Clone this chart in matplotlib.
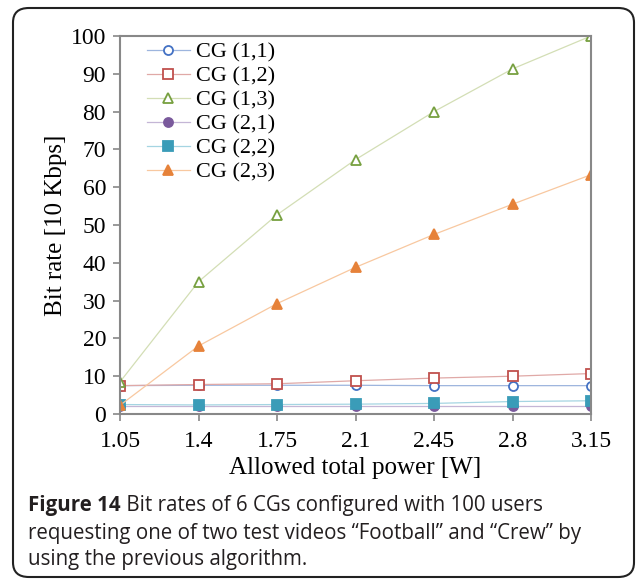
import matplotlib.pyplot as plt
from matplotlib.patches import FancyBboxPatch

# allowed total power (W) and bit rates per CG (10 Kbps)
power = [1.05, 1.4, 1.75, 2.1, 2.45, 2.8, 3.15]
power_labels = ["1.05", "1.4", "1.75", "2.1", "2.45", "2.8", "3.15"]
cg_names = ["CG (1,1)", "CG (1,2)", "CG (1,3)", "CG (2,1)", "CG (2,2)", "CG (2,3)"]
cg11 = [7.5, 7.6, 7.6, 7.6, 7.5, 7.5, 7.5]
cg12 = [7.5, 7.8, 8.0, 8.8, 9.5, 10.0, 10.7]
cg13 = [8.5, 35.0, 52.7, 67.3, 80.0, 91.3, 100.0]
cg21 = [2.2, 2.2, 2.2, 2.2, 2.2, 2.2, 2.2]
cg22 = [2.5, 2.4, 2.5, 2.6, 2.8, 3.3, 3.5]
cg23 = [2.3, 18.0, 29.2, 38.8, 47.5, 55.5, 63.3]

series = [cg11, cg12, cg13, cg21, cg22, cg23]
line_colors = ["#9db5de", "#e0a9a7", "#d3deb5", "#c4b6d6", "#a5d5e2", "#f8c8a0"]
mark_colors = ["#4472c4", "#c0504d", "#77a040", "#7a5a9c", "#3a9cb8", "#e6823a"]
markers = ["o", "s", "^", "o", "s", "^"]
filled = [False, False, False, True, True, True]

fig = plt.figure(figsize=(6.37, 5.81), dpi=100)

# rounded frame around figure and caption
frame = FancyBboxPatch((13 / 637, 4 / 581), 621 / 637, 569 / 581,
                       boxstyle="round,pad=0,rounding_size=0.025",
                       transform=fig.transFigure, fill=False,
                       edgecolor="#222222", linewidth=1.5)
fig.patches.append(frame)

ax = fig.add_axes([120 / 637, 1 - 414 / 581, 471 / 637, 378 / 581])

for y, name, lc, mc, m, f in zip(series, cg_names, line_colors, mark_colors, markers, filled):
    ax.plot(power, y, color=lc, linewidth=0.9, marker=m, markersize=6.5,
            markerfacecolor=mc if f else "white", markeredgecolor=mc,
            markeredgewidth=1.3, label=name)

serif = ["Liberation Serif", "DejaVu Serif"]
ax.set_xlim(1.05, 3.15)
ax.set_ylim(0, 100)
ax.set_xticks(power)
ax.set_xticklabels(power_labels)
ax.set_yticks(range(0, 101, 10))
for lab in ax.get_xticklabels() + ax.get_yticklabels():
    lab.set_family(serif)
    lab.set_fontsize(17)
ax.tick_params(direction="out", length=5, width=1.2, color="#888888", pad=5)
ax.tick_params(axis="x", pad=7)
for sp in ax.spines.values():
    sp.set_color("#888888")
    sp.set_linewidth(1.5)

ax.set_xlabel("Allowed total power [W]", family=serif, fontsize=18, labelpad=4)
ax.set_ylabel("Bit rate [10 Kbps]", family=serif, fontsize=18, labelpad=3)

leg = ax.legend(loc="upper left", bbox_to_anchor=(0.038, 1.008), frameon=False,
                prop={"family": serif, "size": 16}, handlelength=1.95,
                handletextpad=0.25, labelspacing=0.16, borderaxespad=0)

caption = [
    ("Figure 14", " Bit rates of 6 CGs configured with 100 users"),
    ("", "requesting one of two test videos \u201cFootball\u201d and \u201cCrew\u201d by"),
    ("", "using the previous algorithm."),
]
sans = ["Open Sans", "DejaVu Sans"]
for i, (bold, rest) in enumerate(caption):
    ypos = 1 - (506 + 27 * i) / 581
    t = fig.text(28 / 637, ypos, bold, family=sans, fontsize=14.8,
                 fontweight="bold", va="center", color="#231f20")
    if bold:
        fig.canvas.draw()
        bb = t.get_window_extent()
        x0 = bb.x1 / fig.bbox.width
    else:
        x0 = 28 / 637
    fig.text(x0, ypos, rest, family=sans, fontsize=14.8, fontweight="medium",
             va="center", color="#231f20")

fig.savefig("out.png", dpi=100)
